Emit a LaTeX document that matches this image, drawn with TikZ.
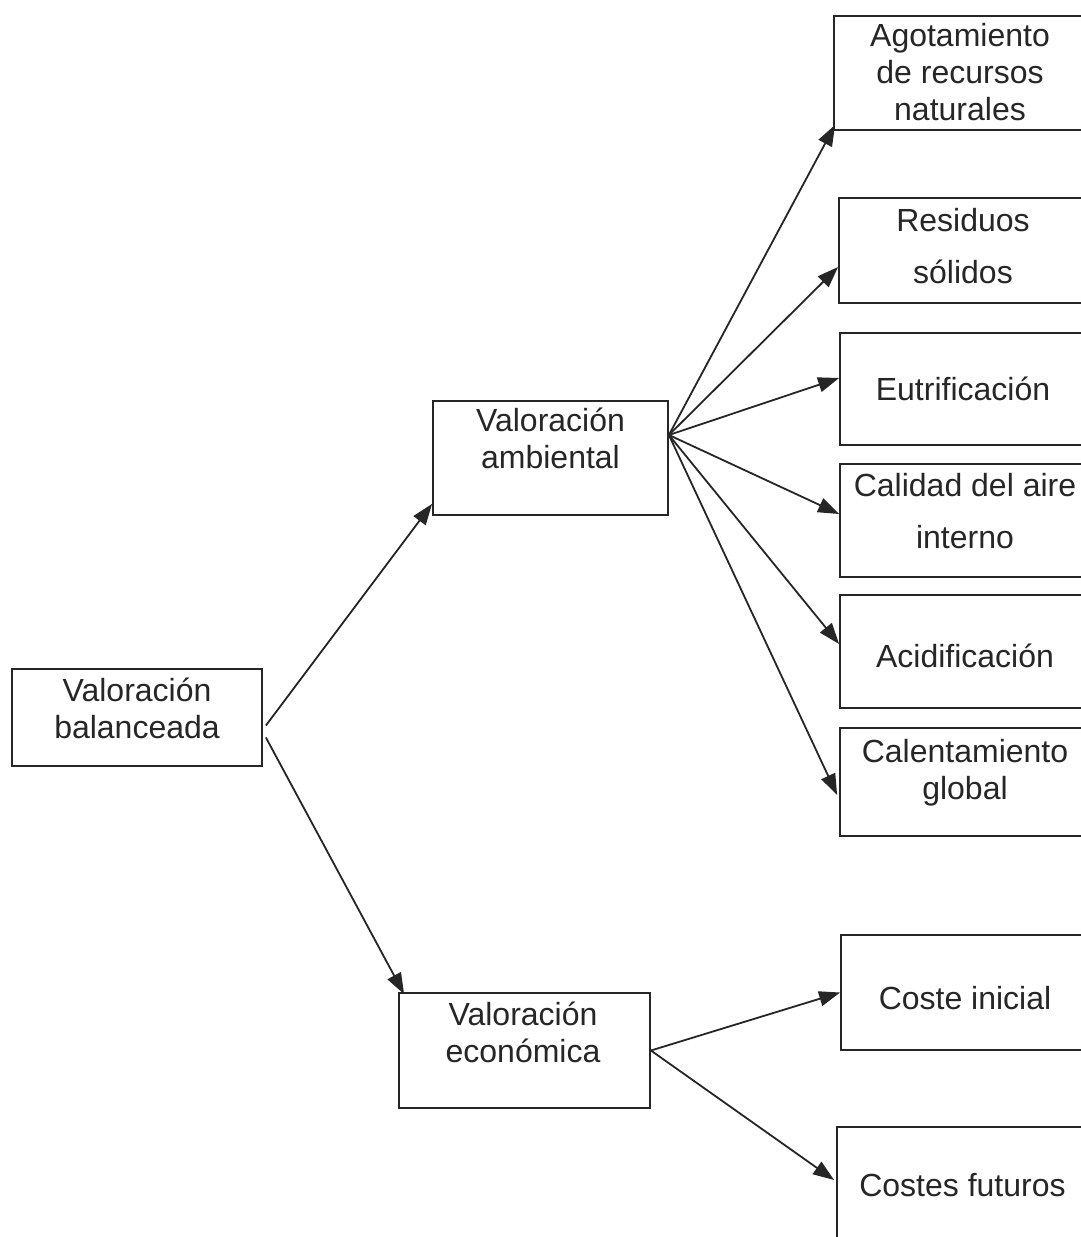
\documentclass[tikz,border=0pt]{standalone}
\usepackage{fontspec}
\setmainfont{Liberation Sans}
\usetikzlibrary{arrows.meta,calc}
\definecolor{ink}{HTML}{262626}
\begin{document}
\begin{tikzpicture}[x=1pt,y=-1pt,
  box/.style={draw=ink, line width=1.8pt, inner sep=0pt},
  lbl/.style={text=ink, align=center, inner sep=0pt, font=\fontsize{32}{37}\selectfont},
  lblwide/.style={lbl, font=\fontsize{32}{52}\selectfont},
  link/.style={draw=ink, line width=1.8pt, -{Triangle[length=21pt,width=15pt]}}]

% page frame
\useasboundingbox (0,0) rectangle (1081,1237);
\fill[white] (0,0) rectangle (1081,1237);
\clip (0,0) rectangle (1081,1237);

% root
\node[box, minimum width=250pt, minimum height=97pt] (bal) at (137,717.5) {};
\node[lbl] (balt) at (137,708.5) {Valoración\\balanceada};

% second level
\node[box, minimum width=235pt, minimum height=114pt] (amb) at (550.5,458) {};
\node[lbl] (ambt) at (550.5,438.5) {Valoración\\ambiental};
\node[box, minimum width=251pt, minimum height=115pt] (eco) at (524.5,1050.5) {};
\node[lbl] (ecot) at (523,1032.5) {Valoración\\económica};

% environmental indicators
\node[box, minimum width=251pt, minimum height=114pt] (agot) at (959.5,73) {};
\node[lbl] (agott) at (960,72) {Agotamiento\\de recursos\\naturales};
\node[box, minimum width=246pt, minimum height=105pt] (res) at (962,250.5) {};
\node[lblwide] (rest) at (963,246) {Residuos\\sólidos};
\node[box, minimum width=245pt, minimum height=112pt] (eut) at (962.5,389) {};
\node[lbl] (eutt) at (963,389) {Eutrificación};
\node[box, minimum width=245pt, minimum height=113pt] (cal) at (962.5,520.5) {};
\node[lblwide] (calt) at (965,511.5) {Calidad del aire\\interno};
\node[box, minimum width=245pt, minimum height=113pt] (acid) at (962.5,651.5) {};
\node[lbl] (acidt) at (965,656) {Acidificación};
\node[box, minimum width=245pt, minimum height=108pt] (calent) at (962.5,782) {};
\node[lbl] (calentt) at (965,772.5) {Calentamiento\\global};

% economic indicators
\node[box, minimum width=244pt, minimum height=115pt] (ini) at (963,992.5) {};
\node[lbl] (init) at (965,998) {Coste inicial};
\node[box, minimum width=248pt, minimum height=118pt] (fut) at (961,1186) {};
\node[lbl] (futt) at (962.5,1185) {Costes futuros};

% connectors
\coordinate (fanA) at ($(amb.east)+(0,-23)$);
\draw[link] ($(bal.east)+(3,8)$) -- ($(amb.south west)+(0,-12)$);
\draw[link] ($(bal.east)+(3,20)$) -- ($(eco.north west)+(6,2)$);

\draw[link] (fanA) -- ($(agot.south west)+(2,-6)$);
\draw[link] (fanA) -- ($(res.west)+(0,16.5)$);
\draw[link] (fanA) -- ($(eut.west)+(0,-11)$);
\draw[link] (fanA) -- ($(cal.west)+(0,-6.5)$);
\draw[link] (fanA) -- ($(acid.west)+(0,-7.5)$);
\draw[link] (fanA) -- ($(calent.west)+(-2,13)$);

\draw[link] (eco.east) -- (ini.west);
\draw[link] (eco.east) -- ($(fut.west)+(-2,-6)$);
\end{tikzpicture}
\end{document}
